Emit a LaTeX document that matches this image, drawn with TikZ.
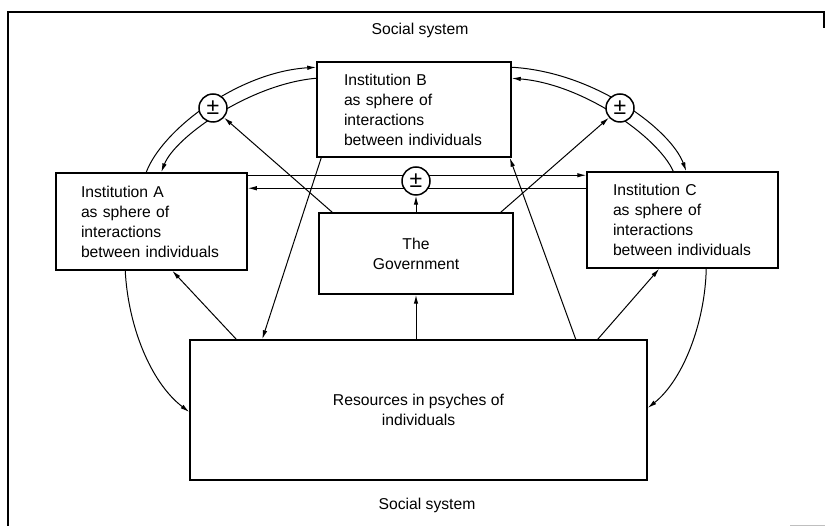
\documentclass[tikz,border=0pt]{standalone}
\usepackage{fontspec}
\setmainfont{Liberation Sans}
\usetikzlibrary{arrows.meta,backgrounds}
\begin{document}
\begin{tikzpicture}[x=1pt,y=-1pt,
  font=\fontsize{15.7}{20}\selectfont,
  box/.style={draw,line width=1.5pt,rectangle,inner ysep=0pt},
  sumc/.style={draw,circle,fill=white,line width=1.5pt,minimum size=28pt,inner sep=0pt,font=\fontsize{23}{23}\selectfont},
  arr/.style={line width=1pt,-{Latex[length=9pt,width=4.5pt]}}]
\useasboundingbox (0,0) rectangle (825,526);
% frame
\draw[line width=1.5pt] (8,526) -- (8,12) -- (824,12) -- (824,28);
\draw[gray!50,line width=1pt] (790,525) -- (825,525);
% labels
\node (st) at (420,30) {Social system};
\node (sb) at (427,505) {Social system};
% boxes
\node[box,minimum width=191pt,minimum height=97pt,text width=141pt,inner xsep=25pt,align=left] (A) at (151.5,221.5)
  {Institution A\\as sphere of\\interactions\\between individuals};
\node[box,minimum width=194pt,minimum height=95pt,text width=140pt,inner xsep=27pt,align=left] (B) at (414,109.5)
  {Institution B\\as sphere of\\interactions\\between individuals};
\node[box,minimum width=191pt,minimum height=96pt,text width=139pt,inner xsep=26pt,align=left] (C) at (682.5,220)
  {Institution C\\as sphere of\\interactions\\between individuals};
\node[box,minimum width=194pt,minimum height=81pt,align=center] (G) at (416,253.5) {The\\Government};
\node[box,minimum width=457pt,minimum height=140pt,align=center] (R) at (418.5,410) {Resources in psyches of\\individuals};
% summing junctions
\node[sumc] (L) at (213,108) {±};
\node[sumc] (M) at (416,181) {±};
\node[sumc] (Q) at (620,108) {±};
\begin{pgfonlayer}{background}
% left arcs
\draw[arr] ([xshift=91pt]A.north west) .. controls (162,130) and (238,72) .. ([yshift=-6pt]B.north west);
\draw[arr] ([yshift=-17pt]B.north west) .. controls (250,84) and (175,137) .. ([xshift=106pt]A.north west);
% right arcs
\draw[arr] ([yshift=-6pt]B.north east) .. controls (595,72) and (671,130) .. ([xshift=100pt]C.north west);
\draw[arr] ([xshift=87pt]C.north west) .. controls (658,137) and (583,84) .. ([yshift=-17pt]B.north east);
% horizontal pair
\draw[arr] ([yshift=-3pt]A.north east) -- ([yshift=-4pt]C.north west);
\draw[arr] ([yshift=-17pt]C.north west) -- ([yshift=-16pt]A.north east);
% big side curves
\draw[arr] ([xshift=70pt]A.south west) .. controls (128,325) and (150,382) .. ([yshift=-2pt]R.west);
\draw[arr] ([xshift=120pt]C.south west) .. controls (705,323) and (683,380) .. ([yshift=2pt]R.east);
% government to junctions
\draw[arr] (G.north) -- (M.south);
\draw[arr] ([xshift=14pt]G.north west) -- (L);
\draw[arr] ([xshift=-13pt]G.north east) -- (Q);
% resources links
\draw[arr] ([xshift=5pt]B.south west) -- ([xshift=73pt]R.north west);
\draw[arr] ([xshift=47pt]R.north west) -- ([xshift=117pt]A.south west);
\draw[arr] ([xshift=-72pt]R.north east) -- ([xshift=-2pt]B.south east);
\draw[arr] ([xshift=-50pt]R.north east) -- ([xshift=73pt]C.south west);
\draw[arr] (G.south |- R.north) -- (G.south);
\end{pgfonlayer}
\end{tikzpicture}
\end{document}
